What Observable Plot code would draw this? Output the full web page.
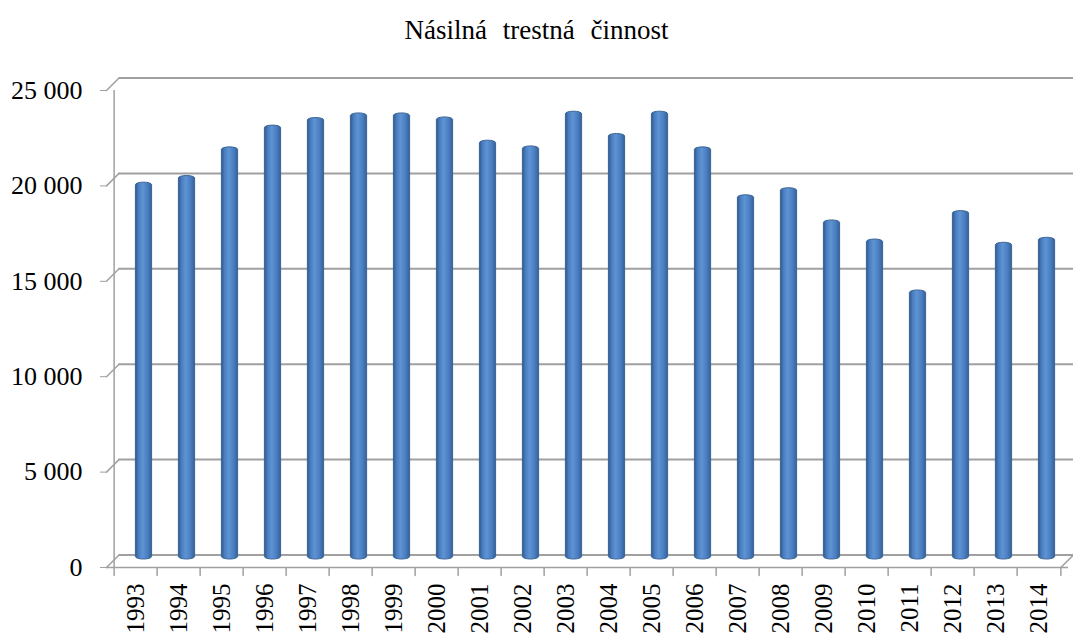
<!DOCTYPE html>
<html><head><meta charset="utf-8">
<script src="https://cdn.jsdelivr.net/npm/d3@7"></script>
<script src="https://cdn.jsdelivr.net/npm/@observablehq/plot@0.6"></script>
<style>
html,body{margin:0;padding:0;overflow:hidden;background:#fff;}
#title{height:50px;box-sizing:border-box;padding-top:17px;text-align:center;font-family:"Liberation Serif","Times New Roman",serif;font-size:27px;line-height:26px;color:#000;word-spacing:9px;}
#chart svg{display:block;}
</style></head><body>
<div id="title">Násilná trestná činnost</div>
<div id="chart"></div>
<script>
const years = ["1993","1994","1995","1996","1997","1998","1999","2000","2001","2002","2003","2004","2005","2006","2007","2008","2009","2010","2011","2012","2013","2014"];
const values = [19750, 20100, 21600, 22740, 23140, 23380, 23380, 23170, 21950, 21650, 23470, 22300, 23470, 21600, 19090, 19460, 17770, 16770, 14100, 18260, 16600, 16860];
const yTicks = [0, 5000, 10000, 15000, 20000, 25000];
const data = years.map((year, i) => ({year, value: values[i]}));

const W = 1073, H = 585, mL = 106, mR = 5, mT = 40, mB = 68;
const step = (W - mL - mR) / years.length;
const depth = 12.5;
const gridColor = "#a0a0a0";
const segment = {draw(ctx, l) { ctx.moveTo(0, 0); ctx.lineTo(0, -l); }};
const fmt = d => d3.format(",")(d).replace(/,/g, " ");
const last = years[years.length - 1];

const chart = Plot.plot({
  width: W, height: H, marginLeft: mL, marginRight: mR, marginTop: mT, marginBottom: mB,
  style: {fontFamily: "Liberation Serif, Times New Roman, serif", fontSize: "26px", color: "#000", background: "#fff", overflow: "visible"},
  x: {type: "band", domain: years, padding: 0, label: null},
  y: {domain: [0, 25000], label: null},
  marks: [
    Plot.ruleY(yTicks, {dx: depth, dy: -depth, stroke: gridColor, strokeWidth: 2}),
    Plot.vector(yTicks, {y: d => d, frameAnchor: "left", anchor: "start", rotate: 45, length: depth * Math.SQRT2, shape: segment, stroke: gridColor, strokeWidth: 1.5}),
    Plot.ruleX([years[0]], {x: d => d, dx: -step / 2, y1: 0, y2: 25000, stroke: gridColor, strokeWidth: 1.5}),
    Plot.ruleY([0], {stroke: gridColor, strokeWidth: 1.5}),
    Plot.vector([last], {x: d => d, y: 0, dx: step / 2, anchor: "start", rotate: 45, length: depth * Math.SQRT2, shape: segment, stroke: gridColor, strokeWidth: 1.5}),
    Plot.vector(years, {x: d => d, y: 0, dx: -step / 2, anchor: "start", rotate: 180, length: 8, shape: segment, stroke: gridColor, strokeWidth: 1.5}),
    Plot.vector([last], {x: d => d, y: 0, dx: step / 2, anchor: "start", rotate: 180, length: 8, shape: segment, stroke: gridColor, strokeWidth: 1.5}),
    Plot.barY(data, {x: "year", y: "value", dx: 8, dy: -8, insetLeft: 13.4, insetRight: 13.4, rx: 8.5, ry: 2.5, fill: "url(#cyl)", stroke: "#3a6394", strokeWidth: 1}),
    Plot.axisY({ticks: yTicks, tickFormat: fmt, tickSize: 6, tickPadding: 18, stroke: gridColor, fill: "#000", fontSize: 26, label: null}),
    Plot.axisX({ticks: years, tickSize: 0, tickPadding: 16, tickRotate: -90, fill: "#000", fontSize: 25, label: null})
  ]
});

const defs = d3.select(chart).insert("defs", ":first-child");
const grad = defs.append("linearGradient").attr("id", "cyl").attr("x1", 0).attr("x2", 1).attr("y1", 0).attr("y2", 0);
[["0%", "#2f5b90"], ["20%", "#4a7ec0"], ["45%", "#5e93d4"], ["75%", "#4a7ec0"], ["100%", "#34639c"]].forEach(([o, c]) => grad.append("stop").attr("offset", o).attr("stop-color", c));

document.getElementById("chart").appendChild(chart);
</script>
</body></html>
